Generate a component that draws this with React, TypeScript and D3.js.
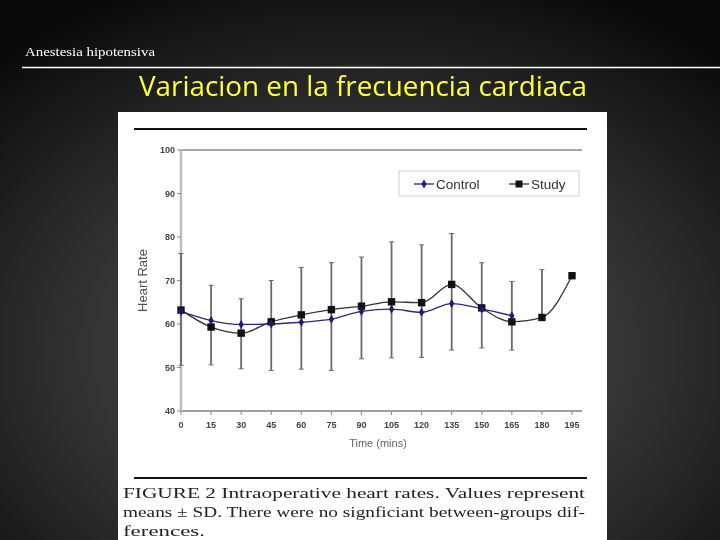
import React from 'react';
import * as d3 from 'd3';

// time points (mins)
const times = [0, 15, 30, 45, 60, 75, 90, 105, 120, 135, 150, 165, 180, 195];
const yTicks = [40, 50, 60, 70, 80, 90, 100];

// mean heart rate per group (control has no readings after 165)
const control = [62.9, 60.8, 59.9, 60.0, 60.4, 61.1, 62.9, 63.4, 62.7, 64.7, 63.5, 61.9];
const study = [63.2, 59.3, 57.9, 60.5, 62.1, 63.3, 64.1, 65.1, 64.9, 69.1, 63.7, 60.5, 61.5, 71.1];

// SD whiskers
const sdUpper = [76.2, 68.9, 65.8, 70.0, 73.0, 74.1, 75.4, 78.9, 78.2, 80.8, 74.1, 69.8, 72.5];
const sdLower = [50.5, 50.6, 49.7, 49.3, 49.6, 49.3, 52.0, 52.2, 52.3, 54.0, 54.5, 54.0, 61.5];

const captionLines = [
  'FIGURE 2  Intraoperative heart rates. Values represent',
  'means \u00B1 SD. There were no signficiant between-groups dif-',
  'ferences.',
];

const W = 720;
const H = 540;

const App: React.FC = () => {
  const x = d3.scaleLinear().domain([0, 195]).range([181, 572]);
  const y = d3.scaleLinear().domain([40, 100]).range([411, 150]);
  const plotRight = 582;

  const line = d3
    .line<[number, number]>()
    .x(d => x(d[0]))
    .y(d => y(d[1]))
    .curve(d3.curveMonotoneX);

  const controlPts: [number, number][] = control.map((v, i) => [times[i], v]);
  const studyPts: [number, number][] = study.map((v, i) => [times[i], v]);

  const diamond = d3.symbol().type(d3.symbolDiamond).size(24)();
  const sans = "'Liberation Sans', Arial, sans-serif";

  return (
    <div style={{ position: 'fixed', left: 0, top: 0 }}>
      <svg width={W} height={H} style={{ display: 'block' }}>
        <defs>
          <radialGradient id="bg" cx="50%" cy="65%" r="75%">
            <stop offset="0%" stopColor="#575757" />
            <stop offset="55%" stopColor="#303030" />
            <stop offset="100%" stopColor="#080808" />
          </radialGradient>
        </defs>
        <rect width={W} height={H} fill="url(#bg)" />

        {/* slide header */}
        <text x={25} y={56} fill="#fff" fontFamily="'Liberation Serif', serif" fontSize={13.5}
          textLength={130} lengthAdjust="spacingAndGlyphs">Anestesia hipotensiva</text>
        <line x1={22} x2={720} y1={67.5} y2={67.5} stroke="#fff" strokeWidth={1.3} />
        <text x={139} y={96} fill="#ffff3c" fontFamily="'Open Sans', sans-serif" fontSize={27}
          textLength={448} lengthAdjust="spacingAndGlyphs">Variacion en la frecuencia cardiaca</text>

        {/* figure panel */}
        <rect x={118} y={112} width={489} height={440} fill="#fff" />
        <line x1={134} x2={587} y1={129} y2={129} stroke="#111" strokeWidth={2} />

        {/* axes frame */}
        <line x1={x(0)} x2={plotRight} y1={y(100)} y2={y(100)} stroke="#8a8a8a" strokeWidth={1.6} />
        <line x1={x(0)} x2={plotRight} y1={y(40)} y2={y(40)} stroke="#a0a0a0" strokeWidth={2} />
        <line x1={x(0)} x2={x(0)} y1={y(100)} y2={y(40)} stroke="#bdbdbd" strokeWidth={2.5} />

        {yTicks.map(t => (
          <g key={t}>
            <line x1={x(0) - 4} x2={x(0)} y1={y(t)} y2={y(t)} stroke="#888" strokeWidth={1} />
            <text x={x(0) - 6} y={y(t)} dy="0.35em" textAnchor="end" fontFamily={sans}
              fontSize={9} fontWeight="bold" fill="#444">{t}</text>
          </g>
        ))}
        {times.map(t => (
          <g key={t}>
            <line x1={x(t)} x2={x(t)} y1={y(40)} y2={y(40) + 4} stroke="#888" strokeWidth={1} />
            <text x={x(t)} y={y(40) + 17} textAnchor="middle" fontFamily={sans}
              fontSize={9} fontWeight="bold" fill="#444">{t}</text>
          </g>
        ))}

        <text transform={`translate(147,${(y(100) + y(40)) / 2}) rotate(-90)`} textAnchor="middle"
          fontFamily={sans} fontSize={13} fill="#505050">Heart Rate</text>
        <text x={378} y={447} textAnchor="middle" fontFamily={sans} fontSize={11} fill="#666">Time (mins)</text>

        {/* SD whiskers */}
        {sdUpper.map((u, i) => (
          <g key={i} stroke="#6a6a6a">
            <line x1={x(times[i])} x2={x(times[i])} y1={y(u)} y2={y(sdLower[i])} strokeWidth={1.8} />
            <line x1={x(times[i]) - 2.5} x2={x(times[i]) + 2.5} y1={y(u)} y2={y(u)} strokeWidth={1} />
            <line x1={x(times[i]) - 2.5} x2={x(times[i]) + 2.5} y1={y(sdLower[i])} y2={y(sdLower[i])} strokeWidth={1} />
          </g>
        ))}

        {/* series */}
        <path d={line(studyPts) || ''} fill="none" stroke="#333" strokeWidth={1.3} />
        <path d={line(controlPts) || ''} fill="none" stroke="#2a2a80" strokeWidth={1.3} />
        {studyPts.map((p, i) => (
          <rect key={i} x={x(p[0]) - 3.7} y={y(p[1]) - 3.7} width={7.4} height={7.4} fill="#111" />
        ))}
        {controlPts.map((p, i) => (
          <path key={i} d={diamond || ''} transform={`translate(${x(p[0])},${y(p[1])})`} fill="#1c1c78" />
        ))}

        {/* legend */}
        <rect x={399} y={171} width={180} height={25} fill="#fff" stroke="#d0d0d0" strokeWidth={1} />
        <line x1={414} x2={434} y1={184} y2={184} stroke="#2a2a80" strokeWidth={1.3} />
        <path d={diamond || ''} transform="translate(424,184)" fill="#1c1c78" />
        <text x={436} y={184} dy="0.35em" fontFamily={sans} fontSize={13.5} fill="#333">Control</text>
        <line x1={509} x2={529} y1={184} y2={184} stroke="#333" strokeWidth={1.3} />
        <rect x={515.5} y={180.5} width={7} height={7} fill="#111" />
        <text x={531} y={184} dy="0.35em" fontFamily={sans} fontSize={13.5} fill="#333">Study</text>

        {/* caption */}
        <line x1={134} x2={587} y1={478} y2={478} stroke="#111" strokeWidth={2} />
        {captionLines.map((t, i) => (
          <text key={i} x={123} y={498 + i * 19} fontFamily="'Liberation Serif', serif" fontSize={15} fill="#222"
            textLength={i < 2 ? 462 : 82} lengthAdjust="spacingAndGlyphs">{t}</text>
        ))}
      </svg>
    </div>
  );
};

export default App;
